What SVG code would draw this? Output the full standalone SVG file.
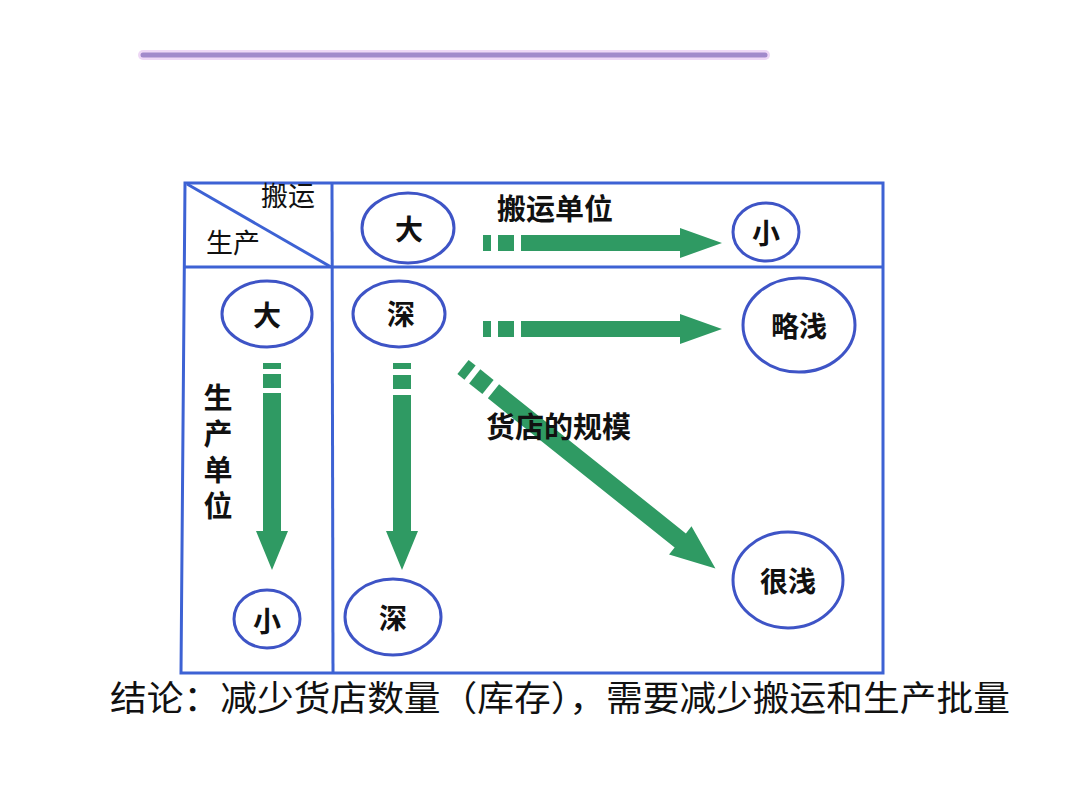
<svg xmlns="http://www.w3.org/2000/svg" width="1080" height="810" viewBox="0 0 1080 810">
<style>
.tbl{fill:none;stroke:#3d62d4;stroke-width:3}
.nd{fill:#fff;stroke:#3e54c6;stroke-width:3}
.lb{font-family:"Noto Sans CJK SC",sans-serif;font-weight:bold;font-size:28px;fill:#111;text-anchor:middle;dominant-baseline:central}
.hd{font-family:"Noto Sans CJK SC",sans-serif;font-weight:normal;font-size:27px;fill:#111}
.al{font-family:"Noto Sans CJK SC",sans-serif;font-weight:bold;font-size:29px;fill:#111}
.ar{fill:#2f9a63}
</style>
<rect width="1080" height="810" fill="#fff"/>
<g id="title-bar">
<line x1="143" y1="55" x2="765" y2="55" stroke="#eed8f6" stroke-width="10" stroke-linecap="round"/>
<line x1="143" y1="55" x2="765" y2="55" stroke="#a18acb" stroke-width="5" stroke-linecap="round"/>
</g>
<g id="table">
<polygon class="tbl" points="185,183 883,183 883,673 181,673"/>
<line class="tbl" x1="332" y1="183" x2="333" y2="673"/>
<line class="tbl" x1="184" y1="267" x2="883" y2="267"/>
<line class="tbl" x1="187" y1="184" x2="331" y2="267"/>
<text class="hd" x="261" y="206">搬运</text>
<text class="hd" x="206" y="253">生产</text>
</g>
<g id="connectors">
<g id="arrow-transport" transform="translate(483,243)">
<rect class="ar" x="0" y="-8" width="8" height="16"/>
<rect class="ar" x="15" y="-8" width="16" height="16"/>
<polygon class="ar" points="38,-8 197,-8 197,-15 239,0 197,15 197,8 38,8"/>
</g>
<g id="arrow-store-h" transform="translate(483,329)">
<rect class="ar" x="0" y="-8" width="8" height="16"/>
<rect class="ar" x="15" y="-8" width="16" height="16"/>
<polygon class="ar" points="38,-8 197,-8 197,-15 239,0 197,15 197,8 38,8"/>
</g>
<g id="arrow-production" transform="translate(272,363) rotate(90)">
<rect class="ar" x="0" y="-9" width="6" height="18"/>
<rect class="ar" x="11" y="-9" width="14" height="18"/>
<polygon class="ar" points="30,-9 168,-9 168,-16 207,0 168,16 168,9 30,9"/>
</g>
<g id="arrow-store-v" transform="translate(402,363) rotate(90)">
<rect class="ar" x="0" y="-9" width="6" height="18"/>
<rect class="ar" x="12" y="-9" width="14" height="18"/>
<polygon class="ar" points="32,-9 168,-9 168,-16 207,0 168,16 168,9 32,9"/>
</g>
<g id="arrow-store-diag" transform="translate(463,367) rotate(38.6)">
<rect class="ar" x="0" y="-9" width="9" height="18"/>
<rect class="ar" x="15" y="-9" width="17" height="18"/>
<polygon class="ar" points="39,-9 278,-9 278,-18 323,0 278,18 278,9 39,9"/>
</g>
<text class="al" x="497" y="220">搬运单位</text>
<text class="al" x="486" y="438">货店的规模</text>
<text class="al" x="218" y="383" font-size="28" writing-mode="vertical-rl" letter-spacing="7">生产单位</text>
</g>
<g id="node-transport-big"><ellipse class="nd" cx="408" cy="228" rx="46" ry="35"/><text class="lb" x="409" y="228">大</text></g>
<g id="node-transport-small"><ellipse class="nd" cx="766" cy="232" rx="33" ry="29"/><text class="lb" x="766" y="232">小</text></g>
<g id="node-production-big"><ellipse class="nd" cx="267" cy="314" rx="45" ry="33"/><text class="lb" x="267" y="314">大</text></g>
<g id="node-deep-top"><ellipse class="nd" cx="399" cy="314" rx="46" ry="33"/><text class="lb" x="401" y="313">深</text></g>
<g id="node-slightly-shallow"><ellipse class="nd" cx="799" cy="325" rx="56" ry="47"/><text class="lb" x="799" y="325" font-size="26">略浅</text></g>
<g id="node-production-small"><ellipse class="nd" cx="267" cy="619" rx="33" ry="29"/><text class="lb" x="267" y="620">小</text></g>
<g id="node-deep-bottom"><ellipse class="nd" cx="393" cy="617" rx="48" ry="38"/><text class="lb" x="393" y="617">深</text></g>
<g id="node-very-shallow"><ellipse class="nd" cx="788" cy="580" rx="55" ry="48"/><text class="lb" x="788" y="580" font-size="26">很浅</text></g>
<text id="conclusion" x="110" y="711" font-family="'Noto Sans CJK SC',sans-serif" font-size="35" fill="#111" textLength="900" lengthAdjust="spacingAndGlyphs">结论：减少货店数量（库存），需要减少搬运和生产批量</text>
</svg>
